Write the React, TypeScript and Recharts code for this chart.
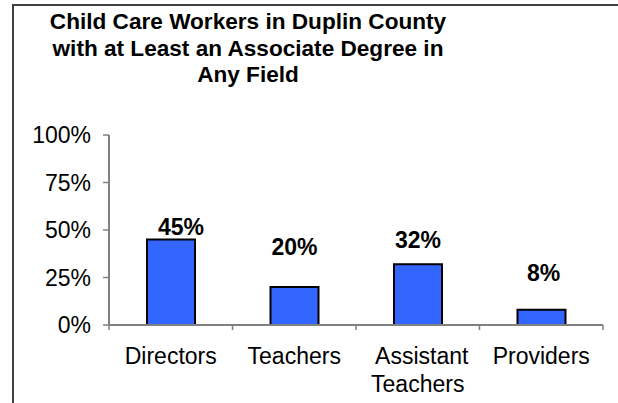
import { Bar, BarChart, LabelList, XAxis, YAxis } from "recharts"

// Values
const categories = ["Directors", "Teachers", "Assistant Teachers", "Providers"]
const shares = [45, 20, 32, 8]
const yTicks = [0, 25, 50, 75, 100]
const titleLines = [
  "Child Care Workers in Duplin County",
  "with at Least an Associate Degree in",
  "Any Field",
]

const data = categories.map((name, i) => ({ name, share: shares[i] }))

const W = 618
const H = 403
const margin = { top: 135, right: 15, bottom: 0, left: 0 }
const yAxisWidth = 109
const xAxisHeight = 78
const band = (W - yAxisWidth - margin.right) / categories.length
const font = "'Liberation Sans', Arial, sans-serif"
const axisGray = "#808080"

// Excel placed the value labels a bit unevenly above the bars
const labelNudge = [
  { dx: 10, lift: 5 },
  { dx: 0, lift: 32 },
  { dx: 0, lift: 16 },
  { dx: 2, lift: 29 },
]

const CategoryTick = (props: any) => {
  const { x, y, payload, index } = props
  const words = String(payload.value).split(" ")
  const lines = words.length > 1 ? words : [payload.value]
  const left = x - band / 2
  return (
    <g>
      <line x1={left} y1={y} x2={left} y2={y + 5} stroke={axisGray} strokeWidth={1.5} />
      {index === categories.length - 1 && (
        <line x1={x + band / 2} y1={y} x2={x + band / 2} y2={y + 5} stroke={axisGray} strokeWidth={1.5} />
      )}
      <text textAnchor="middle" fontSize={23} fontFamily={font} fill="#000">
        {lines.map((line: string, i: number) => (
          <tspan key={i} x={x + (lines.length > 1 && i === 0 ? 4 : 0)} y={y + 39 + i * 28}>
            {line}
          </tspan>
        ))}
      </text>
    </g>
  )
}

const ValueLabel = (props: any) => {
  const { x, y, width, value, index } = props
  const n = labelNudge[index] || { dx: 0, lift: 6 }
  return (
    <text
      x={x + width / 2 + n.dx}
      y={y - n.lift}
      textAnchor="middle"
      fontSize={23}
      fontWeight="bold"
      fontFamily={font}
      fill="#000"
    >
      {value}%
    </text>
  )
}

export default function App() {
  return (
    <div
      style={{
        position: "absolute",
        left: 0,
        top: 0,
        width: W,
        height: H,
        background: "#fff",
        fontFamily: font,
        overflow: "hidden",
      }}
    >
      <div
        style={{
          position: "absolute",
          left: 12,
          top: 4,
          right: -4,
          bottom: -4,
          borderLeft: "2px solid #404040",
          borderTop: "2px solid #404040",
        }}
      />
      <div
        style={{
          position: "absolute",
          left: 18,
          width: 460,
          top: 9,
          textAlign: "center",
          fontWeight: "bold",
          fontSize: 22.6,
          lineHeight: "26.5px",
          color: "#000",
        }}
      >
        {titleLines.map((line) => (
          <div key={line}>{line}</div>
        ))}
      </div>
      <div style={{ position: "absolute", left: 0, top: 0 }}>
        <BarChart width={W} height={H} data={data} margin={margin} barSize={48}>
          <XAxis
            dataKey="name"
            height={xAxisHeight}
            interval={0}
            tickLine={false}
            tickSize={0}
            tickMargin={0}
            axisLine={{ stroke: axisGray, strokeWidth: 2 }}
            tick={<CategoryTick />}
          />
          <XAxis
            xAxisId="top"
            dataKey="name"
            orientation="top"
            height={0}
            tick={false}
            tickLine={false}
            axisLine={{ stroke: axisGray, strokeWidth: 2 }}
          />
          <YAxis
            width={yAxisWidth}
            domain={[0, 100]}
            ticks={yTicks}
            interval={0}
            tickSize={6}
            tickMargin={12}
            tickFormatter={(v) => `${v}%`}
            tick={{ fontSize: 23, fill: "#000", fontFamily: font }}
            tickLine={{ stroke: axisGray, strokeWidth: 1.5 }}
            axisLine={{ stroke: axisGray, strokeWidth: 2 }}
          />
          <YAxis
            yAxisId="right"
            orientation="right"
            width={0}
            domain={[0, 100]}
            tick={false}
            tickLine={false}
            axisLine={{ stroke: axisGray, strokeWidth: 2 }}
          />
          <Bar dataKey="share" fill="#3366FF" stroke="#000" strokeWidth={2} isAnimationActive={false}>
            <LabelList dataKey="share" content={<ValueLabel />} />
          </Bar>
        </BarChart>
      </div>
    </div>
  )
}
